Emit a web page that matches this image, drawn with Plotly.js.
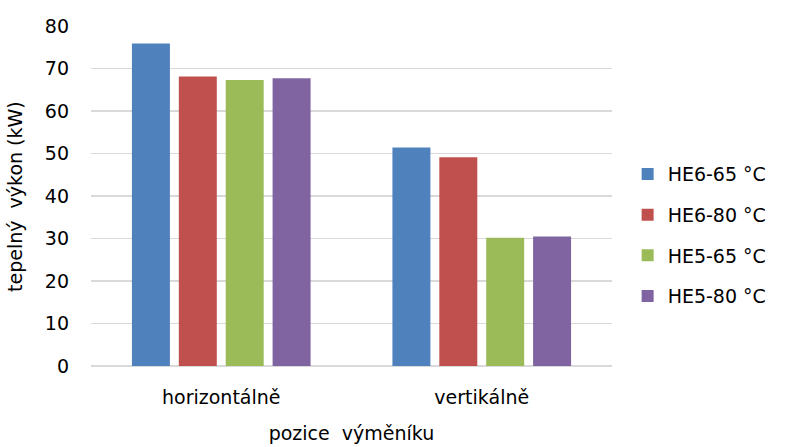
<!DOCTYPE html>
<html>
<head>
<meta charset="utf-8">
<script src="https://cdn.plot.ly/plotly-3.0.1.min.js"></script>
<style>html,body{margin:0;padding:0;background:#fff;}#chart{width:786px;height:447px;}</style>
</head>
<body>
<div id="chart"></div>
<script>
const categories = ["horizontálně", "vertikálně"];
const seriesNames = ["HE6-65 °C", "HE6-80 °C", "HE5-65 °C", "HE5-80 °C"];
const he6_65 = [75.9, 51.4];
const he6_80 = [68.1, 49.1];
const he5_65 = [67.3, 30.2];
const he5_80 = [67.7, 30.5];
const colors = ["#4F81BD", "#C0504D", "#9BBB59", "#8064A2"];
const yTicks = [0, 10, 20, 30, 40, 50, 60, 70, 80];
const yTitle = "tepelný  výkon (kW)";
const xTitle = "pozice  výměníku";

const allValues = [he6_65, he6_80, he5_65, he5_80];
const traces = allValues.map((vals, i) => ({
  type: "bar",
  name: seriesNames[i],
  x: categories,
  y: vals,
  marker: {color: colors[i]},
  legendgroup: "g" + i,
  hoverinfo: "y"
}));

const font = "'DejaVu Sans', sans-serif";
const fs = 19;
const layout = {
  width: 786, height: 447,
  margin: {l: 91, r: 174, t: 26, b: 81},
  paper_bgcolor: "#fff", plot_bgcolor: "#fff",
  font: {family: font, size: fs, color: "#000"},
  barmode: "group",
  bargap: 0.28,
  bargroupgap: 0.19,
  xaxis: {
    showgrid: false, zeroline: false, showline: false, ticks: "",
    tickfont: {family: font, size: fs},
    ticklabelstandoff: 18,
    title: {text: xTitle, font: {family: font, size: fs}, standoff: 19}
  },
  yaxis: {
    range: [0, 80], tickvals: yTicks, ticktext: yTicks.map(String),
    showgrid: true, gridcolor: "#D9D9D9", gridwidth: 1.3,
    zeroline: true, zerolinecolor: "#D9D9D9", zerolinewidth: 1.3,
    showline: false, ticks: "",
    tickfont: {family: font, size: fs},
    ticklabelstandoff: 21
  },
  annotations: [{
    text: yTitle, xref: "paper", yref: "paper",
    x: -0.146, y: 0.5, xanchor: "center", yanchor: "middle",
    textangle: -90, showarrow: false,
    font: {family: font, size: fs, color: "#000"}
  }],
  showlegend: true,
  legend: {
    x: 1.03, xanchor: "left", y: 0.385, yanchor: "middle",
    font: {family: font, size: fs},
    tracegroupgap: 13,
    itemwidth: 30
  }
};
Plotly.newPlot("chart", traces, layout, {displayModeBar: false, staticPlot: true});
</script>
</body>
</html>
